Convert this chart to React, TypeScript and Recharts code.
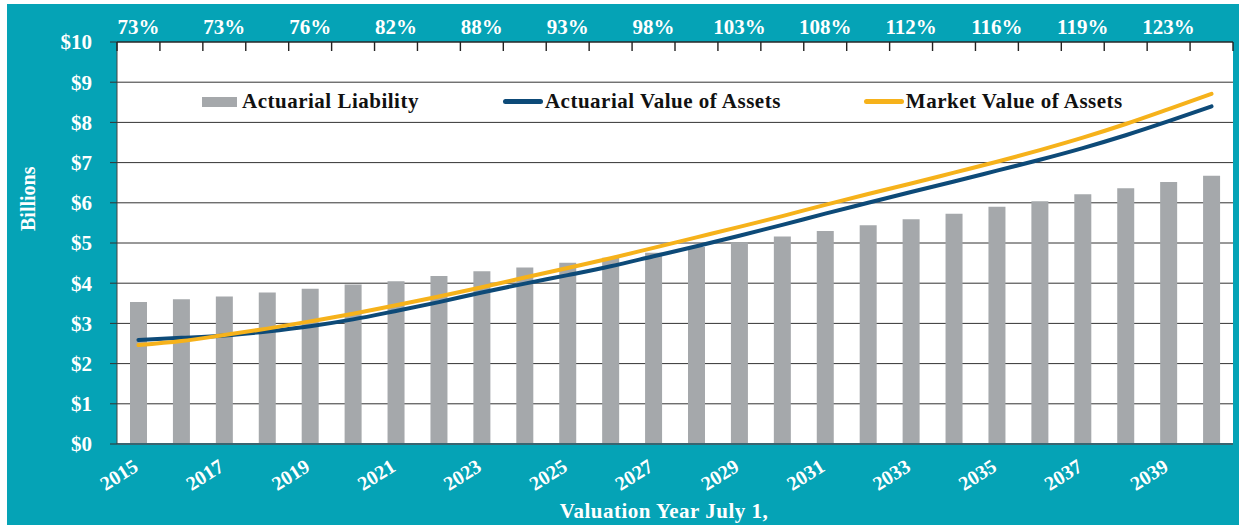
import {
  ComposedChart,
  Bar,
  Line,
  XAxis,
  YAxis,
  CartesianGrid,
  Legend,
} from "recharts";

const years = [
  "2015", "2016", "2017", "2018", "2019", "2020", "2021", "2022", "2023",
  "2024", "2025", "2026", "2027", "2028", "2029", "2030", "2031", "2032",
  "2033", "2034", "2035", "2036", "2037", "2038", "2039", "2040",
];

// billions
const actuarialLiability = [
  3.53, 3.6, 3.67, 3.77, 3.86, 3.97, 4.05, 4.18, 4.3, 4.39, 4.51, 4.63, 4.76,
  4.9, 5.02, 5.16, 5.3, 5.44, 5.59, 5.73, 5.9, 6.04, 6.21, 6.36, 6.52, 6.67,
];
const actuarialAssets = [
  2.59, 2.64, 2.7, 2.8, 2.93, 3.1, 3.31, 3.53, 3.77, 3.99, 4.2, 4.42, 4.67,
  4.92, 5.18, 5.45, 5.73, 6.0, 6.27, 6.53, 6.8, 7.07, 7.36, 7.68, 8.03, 8.4,
];
const marketAssets = [
  2.46, 2.56, 2.71, 2.87, 3.05, 3.24, 3.45, 3.67, 3.9, 4.14, 4.38, 4.62, 4.88,
  5.14, 5.4, 5.67, 5.95, 6.22, 6.48, 6.75, 7.02, 7.31, 7.62, 7.96, 8.33, 8.71,
];

// funded ratio shown above every other year (2015, 2017, ... 2039)
const fundedRatio = [
  "73%", "73%", "76%", "82%", "88%", "93%", "98%", "103%", "108%", "112%",
  "116%", "119%", "123%",
];

const yTicks = [0, 1, 2, 3, 4, 5, 6, 7, 8, 9, 10];

const data = years.map((year, i) => ({
  year,
  liability: actuarialLiability[i],
  ava: actuarialAssets[i],
  mva: marketAssets[i],
}));

const TEAL = "#05a3b6";
const GRAY = "#a5a8ab";
const NAVY = "#0d4a78";
const GOLD = "#f6b21b";
const FONT = "'Liberation Serif', 'Times New Roman', serif";

const CHART_W = 1232;
const CHART_H = 521;
const Y_AXIS_W = 110;
const MARGIN = { top: 0, right: 6, bottom: 7, left: 0 };
const HALF_BAND = (CHART_W - Y_AXIS_W - MARGIN.right - MARGIN.left) / years.length / 2;

// funded ratio labels over category centres, small ticks at category boundaries
function TopTick(props: any) {
  const { x, y, index } = props;
  const left = Number(x) - HALF_BAND;
  const right = Number(x) + HALF_BAND;
  const yy = Number(y);
  return (
    <g>
      <rect x={left - 0.7} y={yy} width={1.4} height={9} fill="#222" />
      {index === years.length - 1 && (
        <rect x={right - 0.7} y={yy} width={1.4} height={9} fill="#222" />
      )}
      {index % 2 === 0 && (
        <text
          x={x}
          y={yy - 8}
          textAnchor="middle"
          fill="#fff"
          fontSize={21}
          fontWeight="bold"
          fontFamily={FONT}
        >
          {fundedRatio[index / 2]}
        </text>
      )}
    </g>
  );
}

function YearTick(props: any) {
  const { x, y, payload } = props;
  return (
    <text
      x={x + 1}
      y={y + 26}
      transform={`rotate(-32, ${x + 1}, ${y + 26})`}
      textAnchor="end"
      fill="#fff"
      fontSize={20}
      fontWeight="bold"
      fontFamily={FONT}
    >
      {payload.value}
    </text>
  );
}

function BillionsLabel(props: any) {
  const { viewBox } = props;
  const cx = viewBox.x + 21;
  const cy = viewBox.y + viewBox.height * 0.39;
  return (
    <text
      x={cx}
      y={cy}
      transform={`rotate(-90, ${cx}, ${cy})`}
      textAnchor="middle"
      dominantBaseline="central"
      fill="#fff"
      fontSize={20}
      fontWeight="bold"
      fontFamily={FONT}
    >
      Billions
    </text>
  );
}

function LegendContent() {
  const items = [
    { name: "Actuarial Liability", kind: "bar", color: GRAY, gap: 84 },
    { name: "Actuarial Value of Assets", kind: "line", color: NAVY, gap: 83 },
    { name: "Market Value of Assets", kind: "line", color: GOLD, gap: 0 },
  ];
  return (
    <div style={{ display: "flex", alignItems: "center", fontFamily: FONT }}>
      {items.map((it) => (
        <div
          key={it.name}
          style={{ display: "flex", alignItems: "center", marginRight: it.gap }}
        >
          {it.kind === "bar" ? (
            <span style={{ width: 35, height: 10, background: it.color, marginRight: 5 }} />
          ) : (
            <span
              style={{
                width: 40,
                height: 5,
                borderRadius: 3,
                background: it.color,
                marginRight: 2,
              }}
            />
          )}
          <span
            style={{
              fontSize: 21,
              letterSpacing: 0.5,
              fontWeight: "bold",
              color: "#111",
              whiteSpace: "nowrap",
            }}
          >
            {it.name}
          </span>
        </div>
      ))}
    </div>
  );
}

export default function App() {
  return (
    <div
      style={{
        position: "absolute",
        left: 7,
        top: 4,
        width: CHART_W,
        height: CHART_H,
        background: TEAL,
      }}
    >
      <ComposedChart
        width={CHART_W}
        height={CHART_H}
        data={data}
        margin={MARGIN}
      >
        <CartesianGrid vertical={false} stroke="#333" fill="#fff" />
        <Bar
          dataKey="liability"
          name="Actuarial Liability"
          fill={GRAY}
          barSize={17}
          isAnimationActive={false}
        />
        <Line
          type="monotone"
          dataKey="ava"
          name="Actuarial Value of Assets"
          stroke={NAVY}
          strokeWidth={4}
          dot={false}
          strokeLinecap="round"
          isAnimationActive={false}
        />
        <Line
          type="monotone"
          dataKey="mva"
          name="Market Value of Assets"
          stroke={GOLD}
          strokeWidth={4}
          dot={false}
          strokeLinecap="round"
          isAnimationActive={false}
        />
        <XAxis
          xAxisId="top"
          orientation="top"
          dataKey="year"
          interval={0}
          height={38}
          tickSize={0}
          tickMargin={0}
          tickLine={false}
          axisLine={{ stroke: "#222" }}
          tick={<TopTick />}
        />
        <XAxis
          dataKey="year"
          interval={1}
          height={74}
          tickSize={0}
          tickMargin={0}
          tickLine={false}
          axisLine={{ stroke: "#3a6470", strokeWidth: 2 }}
          tick={<YearTick />}
          label={{
            value: "Valuation  Year July 1,",
            position: "insideBottom",
            offset: 0,
            dx: -11,
            fill: "#fff",
            fontSize: 21,
            letterSpacing: 0.5,
            fontWeight: "bold",
            fontFamily: FONT,
          }}
        />
        <YAxis
          domain={[0, 10]}
          ticks={yTicks}
          width={Y_AXIS_W}
          tickSize={7}
          tickMargin={18}
          tickLine={{ stroke: "#333" }}
          axisLine={{ stroke: "#444" }}
          tickFormatter={(v: number) => `$${v}`}
          tick={{ fill: "#fff", fontSize: 21, fontWeight: "bold", fontFamily: FONT }}
          label={<BillionsLabel />}
        />
        <Legend
          layout="horizontal"
          verticalAlign="middle"
          content={<LegendContent />}
          wrapperStyle={{ top: 85, left: 195, width: "auto" }}
        />
      </ComposedChart>
    </div>
  );
}
